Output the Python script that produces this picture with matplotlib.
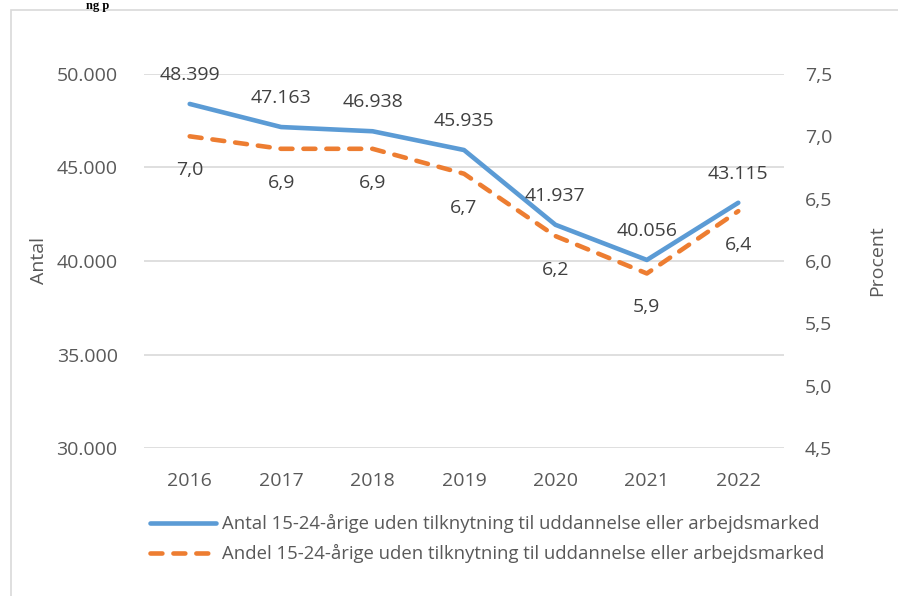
import matplotlib.pyplot as plt
from matplotlib.lines import Line2D
from matplotlib.patches import Rectangle

plt.rcParams['font.family'] = ['Open Sans', 'DejaVu Sans']

years = ['2016', '2017', '2018', '2019', '2020', '2021', '2022']
antal = [48399, 47163, 46938, 45935, 41937, 40056, 43115]
andel = [7.0, 6.9, 6.9, 6.7, 6.2, 5.9, 6.4]
antal_ticks = [30000, 35000, 40000, 45000, 50000]
andel_ticks = [4.5, 5.0, 5.5, 6.0, 6.5, 7.0, 7.5]
labels = ['Antal 15-24-årige uden tilknytning til uddannelse eller arbejdsmarked',
          'Andel 15-24-årige uden tilknytning til uddannelse eller arbejdsmarked']

BLUE = '#5B9BD5'
ORANGE = '#ED7D31'
TICK = '#595959'
LABEL = '#404040'
W, H = 898, 596


def fx(px):
    return px / W


def fy(py):
    return 1 - py / H


def thousands(v):
    return f'{v:,.0f}'.replace(',', '.')


def comma(v):
    return f'{v:.1f}'.replace('.', ',')


fig = plt.figure(figsize=(W / 100, H / 100), dpi=100)

# outer chart border (runs off at right/bottom)
fig.add_artist(Rectangle((fx(11), -0.05), 1.2, fy(10) + 0.05, transform=fig.transFigure,
                         fill=False, edgecolor='#D9D9D9', linewidth=1.2))
# remains of the heading above the chart
fig.text(fx(86), fy(0), 'ng p', family='Liberation Serif', weight='bold', fontsize=9,
         va='top', ha='left', color='black')

ax = fig.add_axes([fx(144), fy(448), fx(784) - fx(144), fy(74) - fy(448)])
ax2 = ax.twinx()
x = list(range(len(years)))

ax.plot(x, antal, color=BLUE, linewidth=3.3, solid_capstyle='round', solid_joinstyle='round', zorder=3)
ax2.plot(x, andel, color=ORANGE, linewidth=3.3, dashes=(2.6, 2.4), dash_capstyle='round',
         dash_joinstyle='round', zorder=3)

ax.set_xlim(-0.5, len(years) - 0.5)
ax.set_ylim(antal_ticks[0], antal_ticks[-1])
ax2.set_ylim(andel_ticks[0], andel_ticks[-1])
ax.set_xticks(x)
ax.set_xticklabels(years)
ax.set_yticks(antal_ticks)
ax.set_yticklabels([thousands(v) for v in antal_ticks])
ax2.set_yticks(andel_ticks)
ax2.set_yticklabels([comma(v) for v in andel_ticks])

ax.grid(axis='y', color='#D9D9D9', linewidth=1.2)
ax.set_axisbelow(True)
for a in (ax, ax2):
    for s in a.spines.values():
        s.set_visible(False)
ax.tick_params(axis='both', length=0, labelsize=14, colors=TICK)
ax.tick_params(axis='x', pad=17)
ax.tick_params(axis='y', pad=19)
ax2.tick_params(axis='y', length=0, labelsize=14, colors=TICK, pad=15)

ax.set_ylabel('Antal', fontsize=14, color=TICK, labelpad=6)
ax2.set_ylabel('Procent', fontsize=14, color=TICK, labelpad=26)

for i, v in enumerate(antal):
    ax.annotate(thousands(v), (i, v), xytext=(0, 29), textcoords='offset pixels',
                ha='center', va='center', fontsize=14, color=LABEL)
for i, v in enumerate(andel):
    ax2.annotate(comma(v), (i, v), xytext=(0, -34), textcoords='offset pixels',
                 ha='center', va='center', fontsize=14, color=LABEL)

# legend
rows = [523, 553]
fig.add_artist(Line2D([fx(150), fx(216)], [fy(rows[0])] * 2, color=BLUE, linewidth=3.3,
                      solid_capstyle='round', transform=fig.transFigure))
fig.add_artist(Line2D([fx(150), fx(216)], [fy(rows[1])] * 2, color=ORANGE, linewidth=3.3,
                      dashes=(2.6, 2.4), dash_capstyle='round', transform=fig.transFigure))
for r, lab in zip(rows, labels):
    fig.text(fx(222), fy(r), lab, fontsize=13.3, color=TICK, ha='left', va='center')

fig.savefig('out.png', dpi=100)
